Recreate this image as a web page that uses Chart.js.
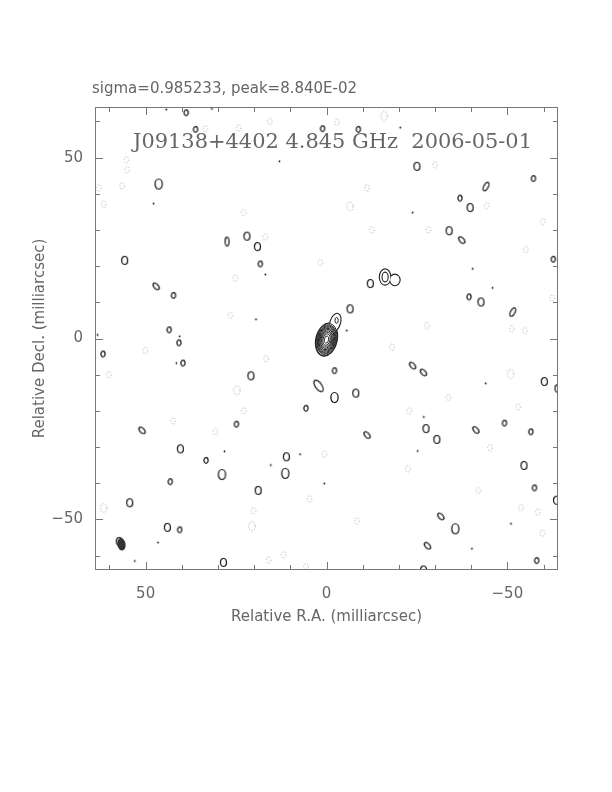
<!DOCTYPE html>
<html><head><meta charset="utf-8">
<script src="https://cdn.jsdelivr.net/npm/chart.js@4/dist/chart.umd.min.js"></script>
<style>html,body{margin:0;padding:0;background:#fff}canvas{display:block}</style>
</head><body>
<canvas id="c" width="612" height="792"></canvas>
<script>
// ---- text ----
const topLabel = 'sigma=0.985233, peak=8.840E-02';
const mapTitle = 'J09138+4402 4.845 GHz  2006-05-01';
const xTitle = 'Relative R.A. (milliarcsec)';
const yTitle = 'Relative Decl. (milliarcsec)';
// ---- axes (milliarcsec) ----
const axisMin = -64, axisMax = 64;
const tickStep = 10;
const labelledTicks = [-50, 0, 50];

// ---- positive contour islands [RA, Dec] (mas) ----
const posSmall = [[38.8,62.4],[36.2,57.8],[1.1,58],[-8.8,57.8],[18.3,20.6],[42.3,11.9],[43.5,2.4],[-57.2,44.2],[-36.9,38.8],[-62.7,21.9],[-39.4,11.5],[40.8,-1.2],[39.7,-6.8],[24.9,-23.7],[33.3,-33.7],[43.2,-39.6],[40.6,-52.9],[-2.2,-8.9],[-49.2,-23.4],[-56.5,-25.8],[-57.5,-41.3],[-58.1,-61.4],[5.7,-19.3],[61.8,-4.3]];
const posMedium = [[22,28.3],[19.1,25.4],[55.8,21.6],[-25,47.6],[-39.7,36.2],[-33.9,29.8],[-12.1,15.2],[-42.7,10.1],[-6.5,8.2],[20.9,-10.3],[40.4,-30.5],[11.1,-32.7],[18.9,-42],[54.4,-45.4],[44,-52.2],[28.5,-61.9],[57.3,-56.1],[-8.1,-15.1],[-60.2,-11.9],[-64,-13.8],[-27.5,-24.9],[-30.5,-27.9],[-54.6,-35.1],[-63.6,-44.7],[-26.8,-64]];
const posLarge = [[46.4,42.7],[28.9,-37.6],[11.4,-37.3],[-2.2,-16.3],[-35.6,-52.6]];
const posNarrow = [[27.5,26.8]];
const posTiltBack = [[47.1,14.4],[-37.4,27.2],[-11.2,-26.7],[51,-25.4],[-23.8,-7.5],[-26.8,-9.4],[-41.3,-25.3],[-31.6,-49.2],[-27.9,-57.3]];
const posTiltBackLarge = [[2.2,-13.1]];
const posTiltFwd = [[-44.1,42],[-51.5,7.3]];
const posDots = [[44.3,63.3],[31.7,63.5],[13,49],[47.8,37.3],[16.9,17.7],[19.5,5.3],[40.6,0.6],[63.3,1],[-20.4,58.3],[-23.8,34.8],[-40.4,19.3],[-45.9,14],[-5.6,2.2],[41.5,-6.8],[46.6,-56.4],[53,-61.5],[-44,-12.4],[-25.2,-31.1],[0.6,-40.1],[7.3,-32],[28.2,-31.2],[15.4,-35],[-26.9,-21.7],[-40.2,-58.1],[-51,-51.2]];
// ---- negative contour islands (dotted) ----
const negSmall = [[33.5,58],[24.3,58.2],[15.7,60],[-2.9,59.8],[55.3,49.4],[55.1,46.7],[56.5,42.2],[63,41.6],[61.6,37.1],[22.9,34.8],[16.9,28.1],[1.7,21],[25.2,16.7],[26.6,6.4],[-30,48],[-11.2,41.6],[-44.3,36.7],[-12.5,30],[-28.2,30],[-59.8,32.3],[-55.1,24.6],[-62.4,11.2],[-51.2,2.7],[-54.9,2.2],[-27.7,3.6],[50.1,-3.3],[60.2,-10],[16.7,-5.6],[22.9,-20],[42.4,-22.8],[30.7,-25.7],[0.6,-32],[4.7,-44.3],[20.2,-47.6],[16,-61.2],[11.9,-59.8],[5.7,-63.1],[-18.1,-2.4],[-33.7,-16.3],[-53,-18.9],[-22.9,-20],[-45.2,-30.2],[-22.5,-36],[-42,-42],[-53.8,-46.7],[-58.4,-48],[-8.4,-50.4],[-59.7,-53.8]];
const negLarge = [[-15.9,61.5],[-6.5,36.5],[24.8,-14.4],[61.6,-46.9],[20.6,-51.9],[-50.9,-9.8]];

// ---- core: nested contours [semi-axis RA, semi-axis Dec] (mas) ----
const coreCenter = [0, -0.3];
const coreTilt = 14; // deg
const coreRings = [[2.8,4.5],[2.58,4.15],[2.38,3.85],[2.18,3.55],[1.98,3.2],[1.76,2.85],[1.52,2.48],[1.28,2.08],[0.98,1.6],[0.6,1.0]];
const jetLobe = [-2.4, 4.4, 1.3, 2.5, 18];   // RA, Dec, a, b, tilt
const jetKnot = [-2.8, 5.0, 0.45, 0.8, 0];
// ---- double island near (-17, 17) ----
const doubleLobes = [[-16.2,17.0,1.45,2.1,0],[-18.9,16.2,1.3,1.45,0]];
const doubleInner = [-16.2,17.0,0.85,1.35,0];
// ---- restoring beam [RA, Dec, a, b, tilt] ----
const beam = [56.7, -56.9, 1.15, 1.75, -10];

const toPts = arr => arr.map(p => ({x: p[0], y: p[1]}));

function ellImg(rx, ry, dashed, filled) {
  const w = Math.ceil(2*rx) + 3, h = Math.ceil(2*ry) + 3;
  const c = document.createElement('canvas'); c.width = w; c.height = h;
  const g = c.getContext('2d');
  g.beginPath(); g.ellipse(w/2, h/2, rx, ry, 0, 0, Math.PI*2);
  if (filled) { g.fillStyle = '#111'; g.fill(); }
  else {
    if (dashed) { g.lineWidth = 1; g.setLineDash([1, 1.8]); g.strokeStyle = '#999'; }
    else { g.lineWidth = 1.2; g.strokeStyle = '#111'; }
    g.stroke();
  }
  return c;
}

const ds = (data, img, rot) => ({data: toPts(data), pointStyle: img, pointRotation: rot || 0, pointRadius: 4, showLine: false});

const framePlugin = {
  id: 'frame',
  afterDatasetsDraw(chart) {
    const {ctx, chartArea: a, scales: {x, y}} = chart;
    const px = v => x.getPixelForValue(v), py = v => y.getPixelForValue(v);
    const sX = Math.abs(px(1) - px(0)), sY = Math.abs(py(1) - py(0));
    const ell = e => { ctx.beginPath(); ctx.ellipse(px(e[0]), py(e[1]), e[2]*sX, e[3]*sY, (e[4]||0)*Math.PI/180, 0, Math.PI*2); };
    ctx.save();
    ctx.beginPath(); ctx.rect(a.left, a.top, a.right-a.left, a.bottom-a.top); ctx.clip();
    // core outer + jet (union outline)
    const outer = [coreCenter[0], coreCenter[1], coreRings[0][0], coreRings[0][1], coreTilt];
    ctx.strokeStyle = '#222'; ctx.lineWidth = 2.2;
    [outer, jetLobe].forEach(e => { ell(e); ctx.stroke(); });
    ctx.fillStyle = '#fff';
    [outer, jetLobe].forEach(e => { ell(e); ctx.fill(); });
    ctx.lineWidth = 1;
    ell(jetKnot); ctx.stroke();
    coreRings.forEach(r => { ell([coreCenter[0], coreCenter[1], r[0], r[1], coreTilt]); ctx.stroke(); });
    // double island
    ctx.lineWidth = 2.2;
    doubleLobes.forEach(e => { ell(e); ctx.stroke(); });
    doubleLobes.forEach(e => { ell(e); ctx.fill(); });
    ctx.lineWidth = 1.1; ell(doubleInner); ctx.stroke();
    // beam
    ctx.fillStyle = '#333'; ell(beam); ctx.fill();
    ctx.restore();
    // frame
    ctx.save();
    ctx.strokeStyle = '#777'; ctx.lineWidth = 1;
    ctx.strokeRect(a.left + 0.5, a.top + 0.5, a.right - a.left - 1, a.bottom - a.top - 1);
    ctx.beginPath();
    x.ticks.forEach(t => {
      const X = Math.round(px(t.value)) + 0.5, L = labelledTicks.includes(t.value) ? 8 : 5;
      ctx.moveTo(X, a.bottom); ctx.lineTo(X, a.bottom - L);
      ctx.moveTo(X, a.top); ctx.lineTo(X, a.top + L);
    });
    y.ticks.forEach(t => {
      const Y = Math.round(py(t.value)) + 0.5, L = labelledTicks.includes(t.value) ? 8 : 5;
      ctx.moveTo(a.left, Y); ctx.lineTo(a.left + L, Y);
      ctx.moveTo(a.right, Y); ctx.lineTo(a.right - L, Y);
    });
    ctx.stroke();
    // texts
    ctx.fillStyle = '#666';
    ctx.textBaseline = 'middle';
    ctx.font = '15px "DejaVu Sans"';
    ctx.textAlign = 'left';
    ctx.fillText(topLabel, 92, 89);
    ctx.font = '21px "DejaVu Serif"';
    const w = ctx.measureText(mapTitle).width, target = 399;
    ctx.translate(133, 143); ctx.scale(target / w, 1);
    ctx.fillText(mapTitle, 0, 0);
    ctx.restore();
  }
};

const fmt = v => v < 0 ? '\u2212' + Math.abs(v) : String(v);
const tickFont = {family: 'DejaVu Sans', size: 15};

new Chart(document.getElementById('c'), {
  type: 'scatter',
  data: {datasets: [
    ds(negSmall, ellImg(2.3, 3.2, true)),
    ds(negLarge, ellImg(3.2, 4.6, true)),
    ds(posSmall, ellImg(2.1, 2.8)),
    ds(posMedium, ellImg(3, 4)),
    ds(posLarge, ellImg(3.6, 5)),
    ds(posNarrow, ellImg(2, 4.4)),
    ds(posTiltBack, ellImg(2.2, 3.9), -40),
    ds(posTiltBackLarge, ellImg(3.2, 6.6), -35),
    ds(posTiltFwd, ellImg(2.2, 4.6), 30),
    ds(posDots, ellImg(0.9, 0.9, false, true))
  ]},
  options: {
    responsive: false, animation: false, events: [],
    layout: {padding: {left: 0, right: 54, top: 107, bottom: 162}},
    plugins: {legend: {display: false}, tooltip: {enabled: false}, title: {display: false}},
    scales: {
      x: {
        type: 'linear', min: axisMin, max: axisMax, reverse: true,
        grid: {display: false, drawTicks: false}, border: {display: false},
        ticks: {stepSize: tickStep, includeBounds: false, autoSkip: false, maxRotation: 0, padding: 15,
          color: '#666', font: tickFont, callback: v => labelledTicks.includes(v) ? fmt(v) : ''},
        title: {display: true, text: xTitle, color: '#666', font: tickFont, padding: {top: 0, bottom: 4}},
        afterFit(s) { s.height = 60; }
      },
      y: {
        type: 'linear', min: axisMin, max: axisMax,
        grid: {display: false, drawTicks: false}, border: {display: false},
        ticks: {stepSize: tickStep, includeBounds: false, autoSkip: false, padding: 12,
          color: '#666', font: tickFont, callback: v => labelledTicks.includes(v) ? fmt(v) : ''},
        title: {display: true, text: yTitle, color: '#666', font: tickFont, padding: {top: 31, bottom: 0}},
        afterFit(s) { s.width = 95; }
      }
    }
  },
  plugins: [framePlugin]
});
</script>
</body></html>
